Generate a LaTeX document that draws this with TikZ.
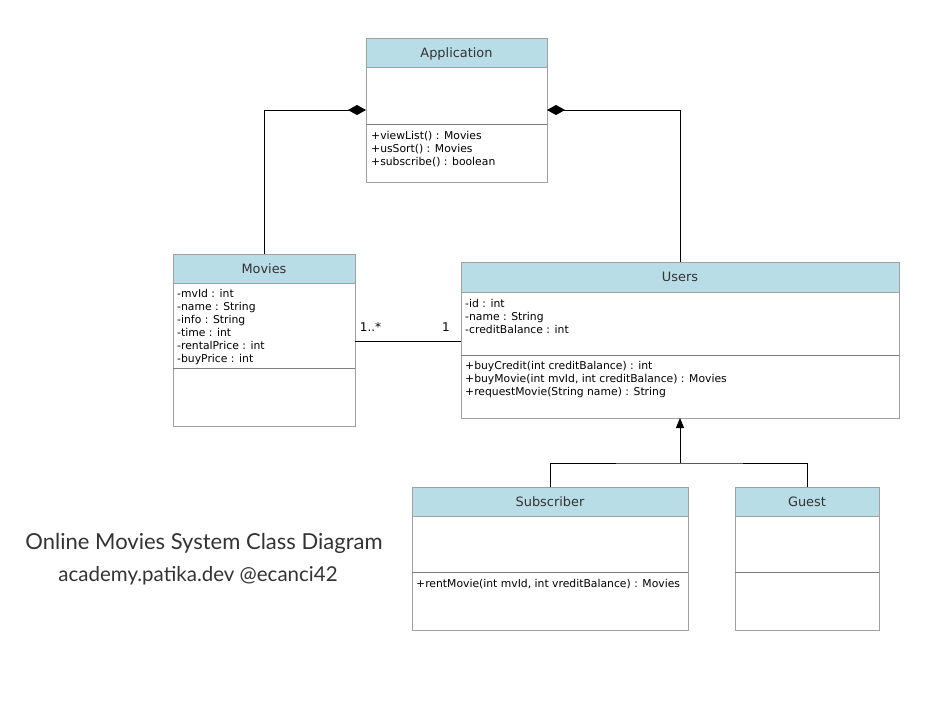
\documentclass[tikz,border=0pt]{standalone}
\usepackage{fontspec}
\setmainfont{DejaVu Sans}
\newfontfamily\titlefont{Lato}
\usetikzlibrary{arrows.meta}
\definecolor{hdr}{HTML}{B8DDE7}
\definecolor{bord}{HTML}{A0A0A0}
\definecolor{sep}{HTML}{808080}
\definecolor{txt}{HTML}{333333}
\tikzset{
  hbox/.style={draw=bord, fill=hdr, line width=1pt, inner sep=0pt, outer sep=0pt, anchor=north west, text=txt, text height=9.4pt, text depth=0pt, font=\fontsize{12.9}{15}\selectfont},
  sbox/.style={draw=bord, fill=white, line width=1pt, inner sep=0pt, outer sep=0pt, anchor=north west},
  mem/.style={anchor=north west, inner sep=0pt, align=left, text=black, font=\fontsize{10.8}{13}\selectfont},
  conn/.style={draw=black, line width=1pt},
  seprule/.style={draw=sep, line width=1pt},
  lbl/.style={inner sep=0pt, font=\fontsize{12}{14}\selectfont},
}
\begin{document}
\begin{tikzpicture}[x=1pt,y=-1pt]
\useasboundingbox (0,0) rectangle (947,710);
% Application
\node[hbox, minimum width=181pt, minimum height=29pt] (apph) at (366,38) {Application};
\node[sbox, minimum width=181pt, minimum height=57pt] (appa) at (366,67) {};
\node[sbox, minimum width=181pt, minimum height=58pt] (appm) at (366,124) {};
\draw[seprule] (appm.north west) -- (appm.north east);
\node[mem] (appmt) at (371,131.5) {+viewList() : Movies\\+usSort() : Movies\\+subscribe() : boolean};
% Movies
\node[hbox, minimum width=182pt, minimum height=29pt] (movh) at (173,254) {Movies};
\node[sbox, minimum width=182pt, minimum height=85pt] (mova) at (173,283) {};
\node[sbox, minimum width=182pt, minimum height=58pt] (movm) at (173,368) {};
\draw[seprule] (movm.north west) -- (movm.north east);
\node[mem] (movat) at (177,289) {-mvId : int\\-name : String\\-info : String\\-time : int\\-rentalPrice : int\\-buyPrice : int};
% Users
\node[hbox, minimum width=438pt, minimum height=30pt] (ush) at (461,262) {Users};
\node[sbox, minimum width=438pt, minimum height=63pt] (usa) at (461,292) {};
\node[sbox, minimum width=438pt, minimum height=63pt] (usm) at (461,355) {};
\draw[seprule] (usm.north west) -- (usm.north east);
\node[mem] (usat) at (465,299.5) {-id : int\\-name : String\\-creditBalance : int};
\node[mem] (usmt) at (465,361.5) {+buyCredit(int creditBalance) : int\\+buyMovie(int mvId, int creditBalance) : Movies\\+requestMovie(String name) : String};
% Subscriber
\node[hbox, minimum width=276pt, minimum height=29pt] (subh) at (412,487) {Subscriber};
\node[sbox, minimum width=276pt, minimum height=56pt] (suba) at (412,516) {};
\node[sbox, minimum width=276pt, minimum height=58pt] (subm) at (412,572) {};
\draw[seprule] (subm.north west) -- (subm.north east);
\node[mem] (submt) at (416,579.5) {+rentMovie(int mvId, int vreditBalance) : Movies};
% Guest
\node[hbox, minimum width=144pt, minimum height=29pt] (gueh) at (735,487) {Guest};
\node[sbox, minimum width=144pt, minimum height=56pt] (guea) at (735,516) {};
\node[sbox, minimum width=144pt, minimum height=58pt] (guem) at (735,572) {};
\draw[seprule] (guem.north west) -- (guem.north east);
% connectors
\coordinate (appL) at (366,110);
\coordinate (appR) at (547,110);
\draw[conn, -{Diamond[length=18pt,width=10pt]}] (movh.north) |- (appL);
\draw[conn, -{Diamond[length=18pt,width=10pt]}] (ush.north) |- (appR);
\coordinate (asL) at (355,341);
\coordinate (asR) at (461,341);
\draw[conn] (asL) -- (asR);
\node[lbl] (m1) at (370.5,327) {1..*};
\node[lbl] (m2) at (446,327) {1};
\coordinate (junc) at (680,463);
\draw[conn] (subh.north) |- (junc) -| (gueh.north);
\draw[conn, -{Triangle[length=10pt,width=8pt]}] (junc) -- (usm.south);
% title
\node[inner sep=0pt, text=txt, font=\titlefont\fontsize{22}{26}\selectfont] (t1) at (204,543) {Online Movies System Class Diagram};
\node[inner sep=0pt, text=txt, font=\titlefont\fontsize{20.5}{25}\selectfont] (t2) at (198,576) {academy.patika.dev @ecanci42};
\end{tikzpicture}
\end{document}
